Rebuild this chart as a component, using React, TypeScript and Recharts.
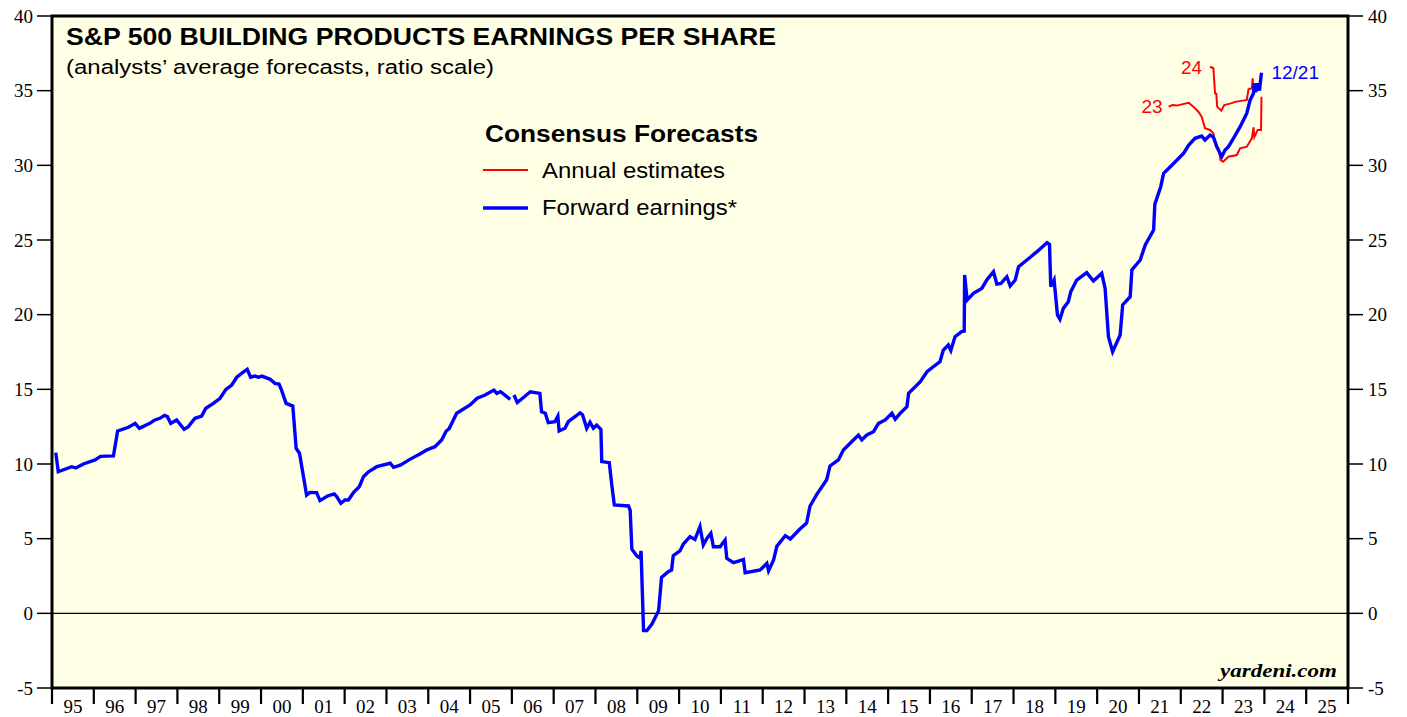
import React from 'react';
import { LineChart, Line, XAxis, YAxis, ReferenceArea, ReferenceLine, ReferenceDot } from 'recharts';

// ---------- DATA ----------
const fwdDates: number[] = [
  1995.09, 1995.15, 1995.47, 1995.57, 1995.75, 1996.03, 1996.16, 1996.47, 1996.57, 1996.83,
  1996.99, 1997.09, 1997.34, 1997.46, 1997.58, 1997.69, 1997.76, 1997.84, 1997.98, 1998.16,
  1998.26, 1998.42, 1998.58, 1998.68, 1998.86, 1999.02, 1999.16, 1999.30, 1999.42, 1999.59,
  1999.67, 1999.75, 1999.85, 1999.94, 2000.02, 2000.22, 2000.33, 2000.43, 2000.49, 2000.60,
  2000.76, 2000.84, 2000.92, 2001.09, 2001.17, 2001.33, 2001.41, 2001.59, 2001.75, 2001.81,
  2001.91, 2002.01, 2002.09, 2002.21, 2002.35, 2002.45, 2002.57, 2002.77, 2003.09, 2003.17,
  2003.33, 2003.56, 2003.80, 2003.96, 2004.16, 2004.32, 2004.43, 2004.50, 2004.68, 2005.00,
  2005.17, 2005.36, 2005.57, 2005.64, 2005.73, 2005.96, 2006.00, 2006.05, 2006.13, 2006.32,
  2006.44, 2006.67, 2006.71, 2006.80, 2006.87, 2007.03, 2007.10, 2007.13, 2007.27, 2007.35,
  2007.63, 2007.69, 2007.79, 2007.87, 2007.95, 2008.03, 2008.13, 2008.15, 2008.33, 2008.39,
  2008.45, 2008.79, 2008.83, 2008.87, 2008.99, 2009.07, 2009.09, 2009.15, 2009.23, 2009.35,
  2009.51, 2009.58, 2009.74, 2009.82, 2009.86, 2010.02, 2010.10, 2010.26, 2010.38, 2010.50,
  2010.58, 2010.66, 2010.76, 2010.82, 2010.98, 2011.10, 2011.14, 2011.30, 2011.42, 2011.54,
  2011.58, 2011.94, 2012.10, 2012.14, 2012.26, 2012.34, 2012.54, 2012.66, 2012.89, 2013.05,
  2013.13, 2013.29, 2013.53, 2013.61, 2013.81, 2013.93, 2014.17, 2014.29, 2014.37, 2014.49,
  2014.65, 2014.77, 2014.93, 2015.09, 2015.17, 2015.29, 2015.45, 2015.49, 2015.77, 2015.93,
  2016.08, 2016.24, 2016.32, 2016.44, 2016.50, 2016.60, 2016.76, 2016.82, 2016.83, 2016.89,
  2017.04, 2017.24, 2017.36, 2017.52, 2017.60, 2017.70, 2017.84, 2017.92, 2018.04, 2018.12,
  2018.32, 2018.56, 2018.80, 2018.86, 2018.89, 2018.97, 2019.05, 2019.11, 2019.19, 2019.31,
  2019.37, 2019.51, 2019.75, 2019.91, 2020.11, 2020.19, 2020.27, 2020.37, 2020.55, 2020.61,
  2020.79, 2020.83, 2021.03, 2021.15, 2021.35, 2021.38, 2021.52, 2021.59, 2021.75, 2021.91,
  2022.07, 2022.19, 2022.34, 2022.50, 2022.58, 2022.70, 2022.78, 2022.86, 2022.98, 2023.06,
  2023.14, 2023.26, 2023.42, 2023.58, 2023.66, 2023.74, 2023.76, 2023.79, 2023.84, 2023.88,
  2023.91, 2023.93,
];
const fwdValues: (number | null)[] = [
  10.76, 9.48, 9.82, 9.73, 10.0, 10.27, 10.51, 10.54, 12.21, 12.46,
  12.72, 12.39, 12.72, 12.95, 13.06, 13.26, 13.17, 12.72, 12.95, 12.32,
  12.5, 13.06, 13.21, 13.73, 14.06, 14.40, 15.00, 15.29, 15.81, 16.18,
  16.34, 15.81, 15.89, 15.81, 15.89, 15.67, 15.40, 15.35, 14.95, 14.06,
  13.88, 11.05, 10.72, 7.92, 8.10, 8.08, 7.55, 7.86, 8.00, 7.82,
  7.37, 7.59, 7.59, 8.08, 8.48, 9.15, 9.48, 9.82, 10.05, 9.78,
  9.92, 10.31, 10.67, 10.94, 11.16, 11.61, 12.21, 12.37, 13.40, 13.95,
  14.40, 14.62, 14.95, 14.73, 14.84, 14.33, null, 14.62, 14.11, 14.55,
  14.84, 14.73, 13.50, 13.40, 12.77, 12.83, 13.2, 12.21, 12.39, 12.83,
  13.43, 13.3, 12.39, 12.8, 12.39, 12.6, 12.32, 10.16, 10.09, 8.60,
  7.26, 7.19, 6.9, 4.29, 3.84, 3.7, 4.18, -1.16, -1.16, -0.72,
  0.18, 2.41, 2.79, 2.9, 3.86, 4.18, 4.63, 5.13, 4.95, 5.80,
  4.58, 5.0, 5.36, 4.46, 4.46, 4.91, 3.68, 3.39, 3.5, 3.61,
  2.72, 2.90, 3.35, 2.85, 3.57, 4.50, 5.20, 4.98, 5.65, 6.05,
  7.17, 7.95, 8.95, 9.87, 10.27, 10.94, 11.61, 11.94, 11.61, 11.94,
  12.16, 12.72, 12.95, 13.40, 13.00, 13.40, 13.84, 14.73, 15.51, 16.18,
  16.51, 16.85, 17.63, 17.97, 17.6, 18.52, 18.86, 18.9, 22.66, 20.98,
  21.43, 21.76, 22.32, 22.88, 22.05, 22.1, 22.54, 21.92, 22.32, 23.21,
  23.66, 24.22, 24.82, 24.7, 21.88, 22.32, 19.98, 19.69, 20.42, 20.87,
  21.54, 22.32, 22.81, 22.25, 22.77, 21.76, 18.52, 17.52, 18.64, 20.65,
  21.20, 22.99, 23.66, 24.67, 25.67, 27.4, 28.57, 29.46, 29.91, 30.36,
  30.81, 31.36, 31.81, 31.96, 31.70, 32.03, 31.9, 31.25, 30.58, 31.03,
  31.25, 31.81, 32.59, 33.49, 34.38, 34.82, 35.49, 34.9, 35.49, 35.0,
  35.71, 36.20,
];

const est23Dates: number[] = [
  2021.71, 2021.80, 2021.90, 2022.19, 2022.30, 2022.42, 2022.50, 2022.58, 2022.70, 2022.78,
  2022.82, 2022.90, 2022.95, 2023.01, 2023.14, 2023.34, 2023.42, 2023.58, 2023.70, 2023.74,
  2023.76, 2023.84, 2023.92, 2023.93,
];
const est23Values: number[] = [
  33.93, 34.04, 34.0, 34.19, 33.93, 33.59, 33.26, 32.48, 32.37, 32.14,
  31.47, 31.14, 30.36, 30.24, 30.58, 30.69, 31.14, 31.25, 31.81, 32.54,
  31.9, 32.37, 32.37, 34.6,
];

const est24Dates: number[] = [
  2022.70, 2022.78, 2022.82, 2022.85, 2022.87, 2022.97, 2023.04, 2023.20, 2023.30, 2023.58,
  2023.62, 2023.70, 2023.72, 2023.73, 2023.93,
];
const est24Values: number[] = [
  36.6, 36.5, 34.82, 34.8, 33.93, 33.66, 34.04, 34.15, 34.25, 34.38,
  35.09, 35.16, 35.83, 35.1, 35.16,
];

const yearLabels: string[] = [
  '95', '96', '97', '98', '99', '00', '01', '02', '03', '04', '05', '06', '07', '08', '09', '10',
  '11', '12', '13', '14', '15', '16', '17', '18', '19', '20', '21', '22', '23', '24', '25',
];
const yTicks: number[] = [-5, 0, 5, 10, 15, 20, 25, 30, 35, 40];

const TITLE = 'S&P 500 BUILDING PRODUCTS EARNINGS PER SHARE';
const SUBTITLE = '(analysts\u2019 average forecasts, ratio scale)';
const LEGEND_TITLE = 'Consensus Forecasts';
const LEGEND_RED = 'Annual estimates';
const LEGEND_BLUE = 'Forward earnings*';

// ---------- BUILD ----------
const zip = (xs: number[], vs: (number | null)[]) => xs.map((x, i) => ({ x, v: vs[i] }));
const fwdData = zip(fwdDates, fwdValues);
const e23Data = zip(est23Dates, est23Values);
const e24Data = zip(est24Dates, est24Values);
const START_YEAR = 1995;
const midTicks = yearLabels.map((_, i) => START_YEAR + i + 0.5);

const W = 1407;
const H = 717;
const M = { top: 16, right: 9, bottom: 4, left: 7 };
const YL_W = 45;
const YR_W = 50;
const XA_H = 25;
const PLOT_W = W - M.left - M.right - YL_W - YR_W;
const HALF_YEAR = PLOT_W / yearLabels.length / 2;

const SERIF = '"Liberation Serif", "DejaVu Serif", serif';
const SANS = '"Liberation Sans", Arial, sans-serif';

const YearTick = (props: any) => {
  const { x, y, payload, index } = props;
  const i = typeof index === 'number' ? index : Math.round(payload.value - START_YEAR - 0.5);
  const lbl = yearLabels[i] ?? '';
  const isLast = i === yearLabels.length - 1;
  return (
    <g>
      <line x1={x - HALF_YEAR} x2={x - HALF_YEAR} y1={y} y2={y + 16} stroke="#000" strokeWidth={2.2} />
      {isLast && <line x1={x + HALF_YEAR} x2={x + HALF_YEAR} y1={y} y2={y + 16} stroke="#000" strokeWidth={2.2} />}
      <text x={x} y={y + 25} textAnchor="middle" fontFamily={SERIF} fontSize={19} fill="#000">
        {lbl}
      </text>
    </g>
  );
};

export default function App() {
  return (
    <div style={{ position: 'absolute', left: 0, top: 0, width: W, height: H, background: '#fff' }}>
      <LineChart width={W} height={H} margin={M}>
        <XAxis
          xAxisId="x"
          dataKey="x"
          type="number"
          domain={[START_YEAR, START_YEAR + yearLabels.length]}
          ticks={midTicks}
          tick={<YearTick />}
          tickLine={false}
          axisLine={false}
          tickSize={0}
          tickMargin={0}
          height={XA_H}
          interval={0}
          allowDataOverflow
        />
        <YAxis
          yAxisId="l"
          orientation="left"
          domain={[-5, 40]}
          ticks={yTicks}
          width={YL_W}
          tickSize={15}
          tickMargin={4}
          axisLine={false}
          tickLine={{ stroke: '#000', strokeWidth: 1.5 }}
          tick={{ fill: '#000', fontFamily: SERIF, fontSize: 19 }}
          interval={0}
          allowDataOverflow
        />
        <YAxis
          yAxisId="r"
          orientation="right"
          domain={[-5, 40]}
          ticks={yTicks}
          width={YR_W}
          tickSize={15}
          tickMargin={5}
          axisLine={false}
          tickLine={{ stroke: '#000', strokeWidth: 1.5 }}
          tick={{ fill: '#000', fontFamily: SERIF, fontSize: 19 }}
          interval={0}
          allowDataOverflow
        />
        <ReferenceArea
          xAxisId="x"
          yAxisId="l"
          x1={START_YEAR}
          x2={START_YEAR + yearLabels.length}
          y1={-5}
          y2={40}
          fill="#FFFFE6"
          fillOpacity={1}
          stroke="#000"
          strokeWidth={3}
        />
        <ReferenceLine xAxisId="x" yAxisId="l" y={0} stroke="#000" strokeWidth={1.3} />
        <Line
          xAxisId="x"
          yAxisId="l"
          data={e23Data}
          dataKey="v"
          type="linear"
          stroke="#FF0000"
          strokeWidth={2}
          dot={false}
          isAnimationActive={false}
        />
        <Line
          xAxisId="x"
          yAxisId="l"
          data={e24Data}
          dataKey="v"
          type="linear"
          stroke="#FF0000"
          strokeWidth={2}
          dot={false}
          isAnimationActive={false}
        />
        <Line
          xAxisId="x"
          yAxisId="l"
          data={fwdData}
          dataKey="v"
          type="linear"
          stroke="#0000FF"
          strokeWidth={3.4}
          dot={false}
          connectNulls={false}
          isAnimationActive={false}
        />
        <ReferenceDot
          xAxisId="x"
          yAxisId="l"
          x={est24Dates[0]}
          y={est24Values[0]}
          r={0}
          fill="none"
          stroke="none"
          label={{ value: '24', position: 'left', offset: 8, fill: '#FF0000', fontSize: 19, fontFamily: SANS }}
        />
        <ReferenceDot
          xAxisId="x"
          yAxisId="l"
          x={est23Dates[0]}
          y={est23Values[0]}
          r={0}
          fill="none"
          stroke="none"
          label={{ value: '23', position: 'left', offset: 6, fill: '#FF0000', fontSize: 19, fontFamily: SANS }}
        />
        <ReferenceDot
          xAxisId="x"
          yAxisId="l"
          x={fwdDates[fwdDates.length - 1]}
          y={fwdValues[fwdValues.length - 1] as number}
          r={0}
          fill="none"
          stroke="none"
          label={{ value: '12/21', position: 'right', offset: 10, fill: '#0000FF', fontSize: 19, fontFamily: SANS }}
        />
      </LineChart>
      <svg
        width={W}
        height={H}
        style={{ position: 'absolute', left: 0, top: 0, pointerEvents: 'none' }}
      >
        <text x={66} y={45} fontFamily={SANS} fontWeight="bold" fontSize={23} fill="#000" textLength={710} lengthAdjust="spacingAndGlyphs">
          {TITLE}
        </text>
        <text x={66} y={74} fontFamily={SANS} fontSize={19.5} fill="#000" textLength={428} lengthAdjust="spacingAndGlyphs">
          {SUBTITLE}
        </text>
        <text x={485} y={141.5} fontFamily={SANS} fontWeight="bold" fontSize={23} fill="#000" textLength={273} lengthAdjust="spacingAndGlyphs">
          {LEGEND_TITLE}
        </text>
        <line x1={483} x2={528} y1={170} y2={170} stroke="#FF0000" strokeWidth={2} />
        <text x={542} y={178} fontFamily={SANS} fontSize={22} fill="#000" textLength={183} lengthAdjust="spacingAndGlyphs">
          {LEGEND_RED}
        </text>
        <line x1={483} x2={528} y1={208} y2={208} stroke="#0000FF" strokeWidth={3.4} />
        <text x={542} y={215} fontFamily={SANS} fontSize={22} fill="#000" textLength={195} lengthAdjust="spacingAndGlyphs">
          {LEGEND_BLUE}
        </text>
        <text x={1220} y={677} fontFamily={SERIF} fontWeight="bold" fontStyle="italic" fontSize={19} fill="#000" textLength={117} lengthAdjust="spacingAndGlyphs">
          yardeni.com
        </text>
      </svg>
    </div>
  );
}
